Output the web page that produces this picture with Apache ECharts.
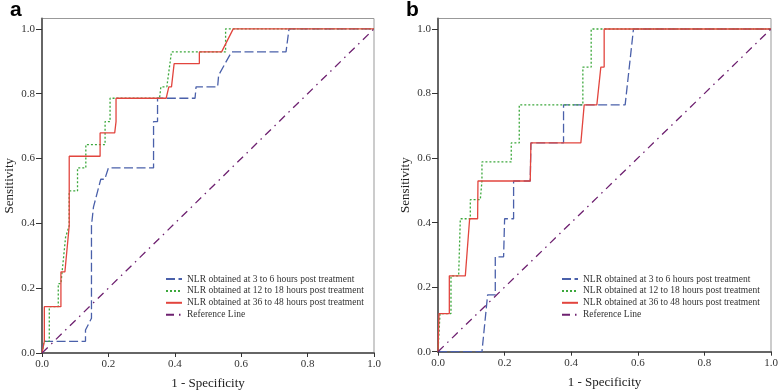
<!DOCTYPE html>
<html>
<head>
<meta charset="utf-8">
<script src="https://cdn.jsdelivr.net/npm/echarts@6/dist/echarts.min.js"></script>
<style>
  html, body { margin: 0; padding: 0; background: #fff; }
  #chart { width: 778px; height: 391px; }
</style>
</head>
<body>
<div id="chart"></div>
<script>
// legend / series names
const seriesNames = [
  "NLR obtained at 3 to 6 hours post treatment",
  "NLR obtained at 12 to 18 hours post treatment",
  "NLR obtained at 36 to 48 hours post treatment",
  "Reference Line",
];
const tickValues = [0, 0.2, 0.4, 0.6, 0.8, 1.0];

// panel a: [1 - specificity, sensitivity]
const aBlue = [[0,0],[0.004,0.036],[0.131,0.036],[0.131,0.071],[0.137,0.071],[0.149,0.107],[0.149,0.393],[0.155,0.45],[0.177,0.536],[0.189,0.536],[0.2,0.571],[0.336,0.571],[0.336,0.714],[0.348,0.714],[0.348,0.786],[0.461,0.786],[0.464,0.821],[0.529,0.821],[0.532,0.857],[0.571,0.929],[0.735,0.929],[0.744,1],[1,1]];
const aGreen = [[0,0],[0.006,0.036],[0.022,0.036],[0.022,0.143],[0.049,0.143],[0.049,0.214],[0.057,0.214],[0.071,0.357],[0.082,0.393],[0.082,0.5],[0.107,0.5],[0.107,0.571],[0.132,0.571],[0.132,0.643],[0.19,0.643],[0.19,0.714],[0.205,0.714],[0.205,0.786],[0.354,0.786],[0.358,0.821],[0.376,0.821],[0.39,0.929],[0.553,0.929],[0.553,1],[1,1]];
const aRed = [[0,0],[0.007,0.036],[0.007,0.143],[0.057,0.143],[0.057,0.25],[0.069,0.25],[0.082,0.393],[0.082,0.607],[0.175,0.607],[0.175,0.679],[0.219,0.679],[0.223,0.714],[0.223,0.786],[0.374,0.786],[0.382,0.821],[0.39,0.821],[0.398,0.893],[0.474,0.893],[0.474,0.929],[0.541,0.929],[0.576,1],[1,1]];

// panel b
const bBlue = [[0,0],[0.132,0],[0.149,0.176],[0.172,0.176],[0.172,0.294],[0.197,0.294],[0.2,0.412],[0.227,0.412],[0.227,0.529],[0.277,0.529],[0.279,0.647],[0.377,0.647],[0.377,0.765],[0.562,0.765],[0.587,1],[1,1]];
const bGreen = [[0,0],[0.006,0.118],[0.039,0.118],[0.039,0.235],[0.062,0.235],[0.067,0.412],[0.097,0.412],[0.097,0.471],[0.127,0.471],[0.132,0.529],[0.132,0.588],[0.22,0.588],[0.22,0.647],[0.244,0.647],[0.244,0.765],[0.435,0.765],[0.435,0.882],[0.46,0.882],[0.46,1],[1,1]];
const bRed = [[0,0],[0.003,0.118],[0.034,0.118],[0.034,0.235],[0.082,0.235],[0.095,0.412],[0.119,0.412],[0.12,0.529],[0.277,0.529],[0.279,0.647],[0.429,0.647],[0.439,0.765],[0.477,0.765],[0.489,0.882],[0.499,0.882],[0.499,1],[1,1]];

const refLine = [[0,0],[1,1]];

const chart = echarts.init(document.getElementById("chart"));

const serif = "Liberation Serif";
const colors = ["#4a60aa", "#3ca83c", "#e2453e", "#6e2170"];
const dashes = [[9, 3.5], [2, 2], "solid", [8, 5, 1.5, 5]];

const makeX = (gi) => ({
  type: "value",
  gridIndex: gi,
  min: 0,
  max: 1,
  interval: 0.2,
  name: "1 - Specificity",
  nameLocation: "middle",
  nameGap: 24,
  nameTextStyle: { fontFamily: serif, fontSize: 13, color: "#222" },
  axisLine: { lineStyle: { color: "#666", width: 2 } },
  axisTick: { length: 4, lineStyle: { color: "#333", width: 1 } },
  axisLabel: {
    fontFamily: serif, fontSize: 11, color: "#333", margin: 6,
    formatter: (v) => v.toFixed(1),
  },
  splitLine: { show: false },
});

const makeY = (gi, max) => ({
  type: "value",
  gridIndex: gi,
  min: 0,
  max: max,
  name: "Sensitivity",
  nameLocation: "middle",
  nameGap: 26,
  nameTextStyle: { fontFamily: serif, fontSize: 13, color: "#222" },
  axisLine: { lineStyle: { color: "#666", width: 2 } },
  axisTick: { length: 6, customValues: tickValues, lineStyle: { color: "#333", width: 1 } },
  axisLabel: {
    fontFamily: serif, fontSize: 11, color: "#333", margin: 7,
    customValues: tickValues,
    formatter: (v) => v.toFixed(1),
  },
  splitLine: { show: false },
});

const makeSeries = (gi, data, i) => ({
  name: seriesNames[i],
  type: "line",
  xAxisIndex: gi,
  yAxisIndex: gi,
  data: data,
  symbol: "none",
  lineStyle: { color: colors[i], width: 1.3, type: dashes[i] },
  itemStyle: { color: colors[i] },
});

const makeLegend = (left) => ({
  orient: "vertical",
  left: left,
  top: 274,
  padding: 0,
  itemWidth: 16,
  itemHeight: 10,
  itemGap: 1.9,
  itemStyle: { opacity: 0 },
  data: seriesNames,
  textStyle: { fontFamily: serif, fontSize: 9.5, color: "#333", lineHeight: 10 },
});

const option = {
  animation: false,
  backgroundColor: "#fff",
  title: [
    { text: "a", left: 10, top: 0, padding: 0,
      textStyle: { fontFamily: "Liberation Sans", fontWeight: "bold", fontSize: 21, color: "#000" } },
    { text: "b", left: 406, top: 0, padding: 0,
      textStyle: { fontFamily: "Liberation Sans", fontWeight: "bold", fontSize: 21, color: "#000" } },
  ],
  legend: [makeLegend(165), makeLegend(561)],
  grid: [
    { left: 42, top: 18.5, width: 332, height: 334.5, outerBoundsMode: "none",
      show: true, borderColor: "#999", borderWidth: 1 },
    { left: 438, top: 18.5, width: 333, height: 333.2, outerBoundsMode: "none",
      show: true, borderColor: "#999", borderWidth: 1 },
  ],
  xAxis: [makeX(0), makeX(1)],
  yAxis: [makeY(0, 1.032), makeY(1, 1.0325)],
  series: [
    makeSeries(0, aBlue, 0),
    makeSeries(0, aGreen, 1),
    makeSeries(0, aRed, 2),
    makeSeries(0, refLine, 3),
    makeSeries(1, bBlue, 0),
    makeSeries(1, bGreen, 1),
    makeSeries(1, bRed, 2),
    makeSeries(1, refLine, 3),
  ],
};

chart.setOption(option);
</script>
</body>
</html>
